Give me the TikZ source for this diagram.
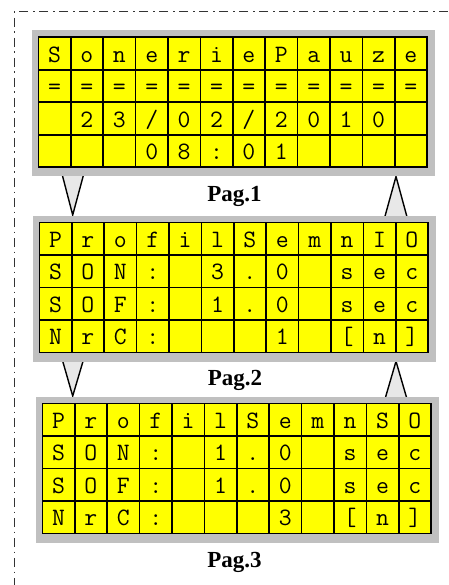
\documentclass[tikz,border=0pt]{standalone}
\usepackage{fontspec}
\setmainfont{Liberation Serif}
\definecolor{lcdyellow}{RGB}{255,255,0}
\definecolor{bezelgrey}{RGB}{192,192,192}
\definecolor{arrowfill}{RGB}{232,232,232}
\newcommand\lcdpanel[4]{% #1 name, #2 grid x, #3 grid y, #4 rows
  \node[bezel, anchor=north west] (#1) at ({#2-7},{#3-7}) {};
  \fill[lcdyellow] (#2,#3) rectangle ({#2+388.8},{#3+130});
  \foreach \k in {0,...,12} {\draw[gridline] ({#2+32.4*\k},#3) -- ({#2+32.4*\k},{#3+130});}
  \foreach \k in {0,...,4} {\draw[gridline] (#2,{#3+32.5*\k}) -- ({#2+388.8},{#3+32.5*\k});}
  \foreach \row [count=\r from 0] in {#4} {
    \foreach \c [count=\i from 0] in \row {
      \node[cellchar] (#1-\r-\i) at ({#2+(\i+0.5)*32.4},{#3+32.5*\r+25}) {\c};
    }
  }
}
\begin{document}
\begin{tikzpicture}[x=1pt,y=-1pt,
  bezel/.style={fill=bezelgrey, draw=none, inner sep=0pt, minimum width=403pt, minimum height=146pt},
  gridline/.style={draw=black, line width=1.6pt, line cap=rect},
  cellchar/.style={anchor=base, inner sep=0pt, font=\ttfamily\fontsize{25}{25}\selectfont},
  pagelabel/.style={anchor=base, inner sep=0pt, font=\bfseries\fontsize{23}{23}\selectfont},
  tri/.style={draw=black, fill=arrowfill, line width=1.4pt, line join=miter},
  frameline/.style={draw=black!80, line width=1pt, dash pattern=on 9pt off 4.5pt on 1.5pt off 5pt}]
\useasboundingbox (0,0) rectangle (448,585);
% outer dash-dot frame
\coordinate (fc) at (14,12);
\coordinate (fr) at (448,12);
\coordinate (fb) at (14,585);
\draw[frameline] (fr) -- (fc) -- (fb);
% navigation triangles (drawn under the bezels)
\draw[tri] (61.5,172) -- (84.3,172) -- (72.7,215) -- cycle;
\draw[tri] (396,176.5) -- (407.3,218) -- (384.5,218) -- cycle;
\draw[tri] (61.5,357) -- (84.3,357) -- (72.7,396) -- cycle;
\draw[tri] (396,361.3) -- (407,399) -- (385,399) -- cycle;
% panels
\lcdpanel{p1}{38.3}{37.3}{{S,o,n,e,r,i,e,P,a,u,z,e},{=,=,=,=,=,=,=,=,=,=,=,=},{{},2,3,/,0,2,/,2,0,1,0,{}},{{},{},{},0,8,:,0,1,{},{},{},{}}}
\lcdpanel{p2}{39.3}{222.3}{{P,r,o,f,i,l,S,e,m,n,I,O},{S,O,N,:,{},3,.,0,{},s,e,c},{S,O,F,:,{},1,.,0,{},s,e,c},{N,r,C,:,{},{},{},1,{},{[},n,{]}}}
\lcdpanel{p3}{42.3}{403.3}{{P,r,o,f,i,l,S,e,m,n,S,O},{S,O,N,:,{},1,.,0,{},s,e,c},{S,O,F,:,{},1,.,0,{},s,e,c},{N,r,C,:,{},{},{},3,{},{[},n,{]}}}
% labels
\node[pagelabel] (l1) at (234.5,201.7) {Pag.1};
\node[pagelabel] (l2) at (235,385) {Pag.2};
\node[pagelabel] (l3) at (234.5,567.7) {Pag.3};
\end{tikzpicture}
\end{document}
